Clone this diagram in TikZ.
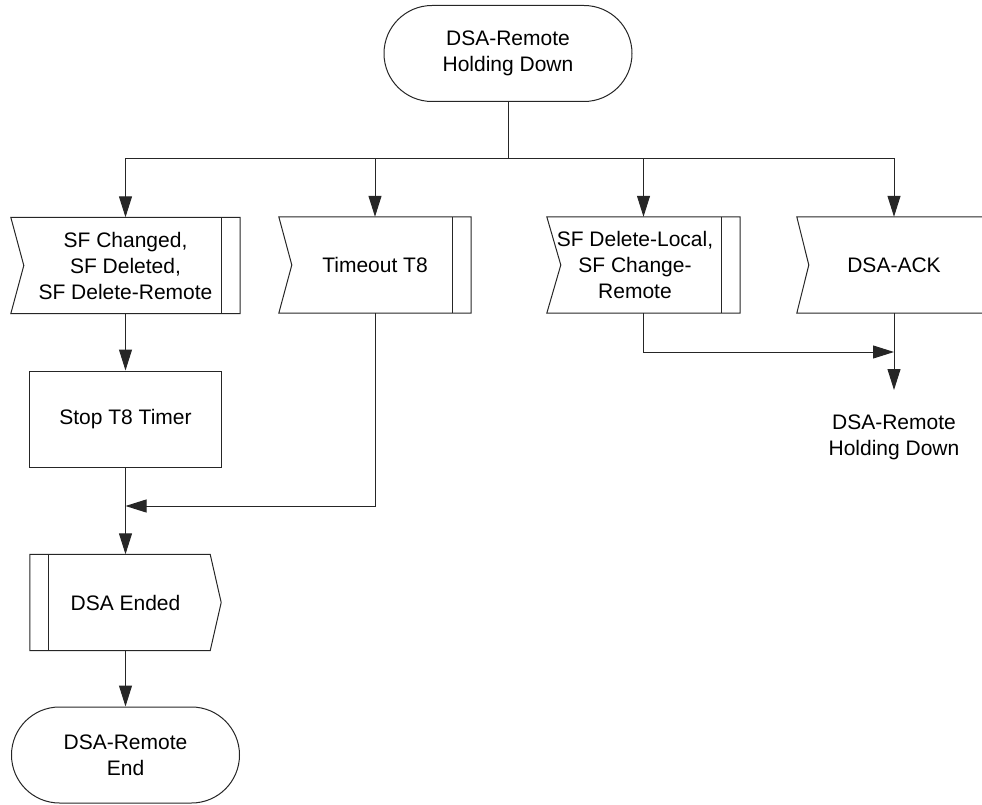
\documentclass[tikz,border=0pt]{standalone}
\usepackage{fontspec}
\setmainfont{Liberation Sans}
\usetikzlibrary{arrows.meta,calc}
\begin{document}
\begin{tikzpicture}[x=1pt,y=-1pt,
  every node/.style={font=\fontsize{21}{26}\selectfont, align=center, inner sep=0pt},
  line/.style={draw=black!85, line width=1pt},
  arr/.style={line, -{Triangle[length=21pt,width=13pt]}},
  term/.style={draw=black!85, line width=1pt, rounded corners=48pt, minimum width=#1, minimum height=96pt},
  plainbox/.style={draw=black!85, line width=1pt, minimum width=192pt, minimum height=96pt},
  sigbox/.style={minimum width=#1, minimum height=96pt}]
\useasboundingbox (0,0) rectangle (982,805);
\clip (0,0) rectangle (982,805);

% nodes
\node[term=248pt] (top) at (508,53.5) {DSA-Remote\\Holding Down};
\node[sigbox=229pt] (b1) at (125.5,265.5) {SF Changed,\\SF Deleted,\\SF Delete-Remote};
\node[sigbox=192pt] (b2) at (375,265) {Timeout T8};
\node[sigbox=193pt] (b3) at (643.5,265) {};
\node (t3) at (635,265) {SF Delete-Local,\\SF Change-\\Remote};
\node[sigbox=194pt] (b4) at (894,265) {DSA-ACK};
\node[plainbox] (stop) at (125.5,419) {Stop T8 Timer};
\node[sigbox=191pt] (ended) at (125.5,602.5) {DSA Ended};
\node[term=228pt] (endt) at (125.5,755) {DSA-Remote\\End};
\node (next) at (894,437) {DSA-Remote\\Holding Down};

% input signal shapes
\foreach \n/\notch/\bar in {b1/13/19, b2/13/19, b3/14/19}{
  \draw[line] (\n.north west) -- (\n.north east) -- (\n.south east) -- (\n.south west)
    -- ($(\n.west)+(\notch,0)$) -- cycle;
  \draw[line] ($(\n.north east)+(-\bar,0)$) -- ($(\n.south east)+(-\bar,0)$);
}
\draw[line] (b4.north west) -- (b4.north east) -- (b4.south east) -- (b4.south west)
  -- ($(b4.west)+(12,0)$) -- cycle;

% output signal shape
\draw[line] (ended.north west) -- ($(ended.north east)+(-11,0)$) -- (ended.east)
  -- ($(ended.south east)+(-11,0)$) -- (ended.south west) -- cycle;
\draw[line] ($(ended.north west)+(19,0)$) -- ($(ended.south west)+(19,0)$);

% connectors
\coordinate (bus) at (508,159);
\coordinate (j1) at (125.5,506);
\coordinate (j4) at (894,352);
\coordinate (tip4) at (894,390);

\draw[line] (top.south) -- (bus);
\draw[line] (b1.north |- bus) -- (b4.north |- bus);
\draw[arr] (bus) -| (b1.north);
\draw[arr] (bus) -| (b2.north);
\draw[arr] (bus) -| (b3.north);
\draw[arr] (bus) -| (b4.north);

\draw[arr] (b1.south) -- (stop.north);
\draw[line] (stop.south) -- (j1);
\draw[arr] (b2.south) |- (j1);
\draw[arr] (j1) -- (ended.north);
\draw[arr] (ended.south) -- (endt.north);

\draw[arr] (b3.south) |- (j4);
\draw[arr] (b4.south) -- (tip4);
\end{tikzpicture}
\end{document}
